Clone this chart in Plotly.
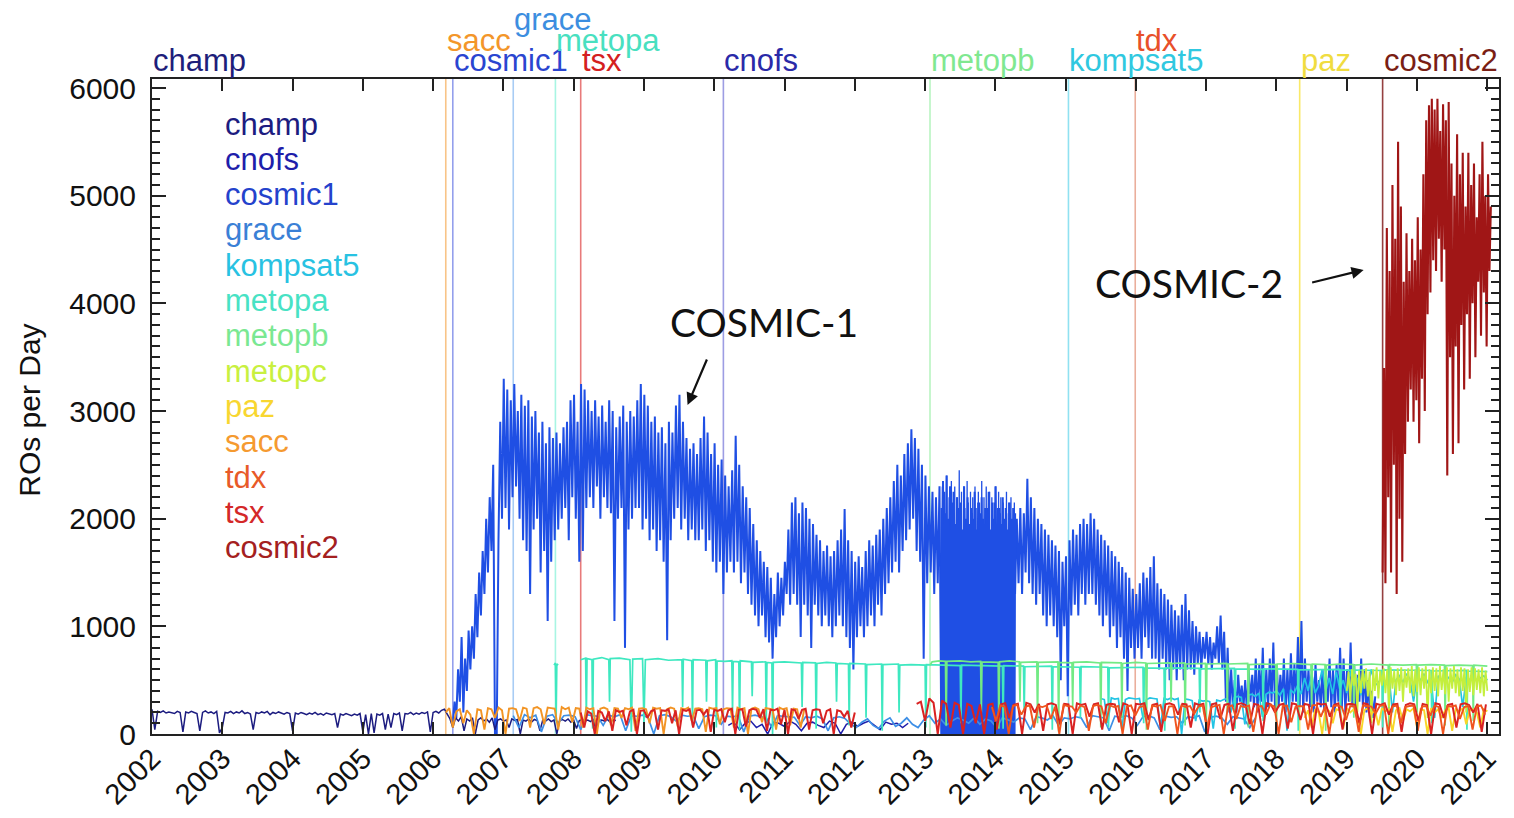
import numpy as np
import plotly.graph_objects as go

# ---------------- axes / labels ----------------
YEAR_TICKS = list(range(2002, 2022))
Y_TICKS = [0, 1000, 2000, 3000, 4000, 5000, 6000]

legend_names = ["champ", "cnofs", "cosmic1", "grace", "kompsat5", "metopa", "metopb",
                "metopc", "paz", "sacc", "tdx", "tsx", "cosmic2"]
legend_colors = ["#1c1c80", "#1e1eaa", "#2442cc", "#3a80d6", "#28c2e2", "#48e2c4", "#7ae892",
                 "#c8f040", "#f8d630", "#f59a30", "#e85a28", "#d42828", "#a42020"]

top_labels = ["champ", "sacc", "cosmic1", "grace", "metopa", "tsx", "cnofs", "metopb",
              "kompsat5", "tdx", "paz", "cosmic2"]
top_label_years = [2002.0, 2006.18, 2006.28, 2007.14, 2007.74, 2008.10, 2010.13, 2013.07,
                   2015.04, 2015.99, 2018.33, 2019.51]
top_label_rows = [1, 2, 1, 3, 2, 1, 1, 1, 1, 2, 1, 1]
top_label_colors = ["#1e1e7a", "#f3962a", "#2a45d0", "#3c8ee0", "#48e0c0", "#d42020", "#2a2aa8",
                    "#80e890", "#30c8e0", "#e8502a", "#f0dc40", "#7a1e14"]
launch_line_colors = ["rgba(0,0,0,0)", "rgba(242,148,36,0.55)", "rgba(60,80,220,0.55)",
                      "rgba(61,143,230,0.45)", "rgba(62,232,192,0.45)", "rgba(217,34,34,0.6)",
                      "rgba(60,60,200,0.5)", "rgba(114,234,132,0.5)", "rgba(34,196,228,0.5)",
                      "rgba(220,120,90,0.6)", "rgba(248,224,40,0.7)", "rgba(130,30,30,0.85)"]

# ---------------- data (ROs per day) ----------------
# COSMIC-1: highest and lowest daily count within each 0.05-year bin
cosmic1_start, cosmic1_step = 2006.28, 0.05
cosmic1_high = [
    300, 600, 900, 700, 960, 1000, 1300, 1500, 1700, 2000,
    2200, 2500, 0, 2900, 3300, 3200, 3100, 3250, 3000, 3150,
    3050, 3100, 2950, 3000, 2800, 2900, 2700, 2850, 2750, 2800,
    2700, 2850, 2900, 3100, 3150, 2900, 3250, 3200, 3100, 3000,
    3100, 2950, 3050, 2900, 3100, 3000, 2850, 2950, 3050, 2900,
    3000, 2950, 3100, 3250, 3150, 3050, 2900, 2950, 2800, 2850,
    2700, 2900, 2800, 3050, 3150, 2900, 2750, 2650, 2700, 2600,
    2750, 2950, 2800, 2600, 2700, 2500, 2550, 2400, 2300, 2450,
    2770, 2500, 2300, 2200, 2100, 1950, 1800, 1700, 1600, 1550,
    1450, 1300, 1500, 1450, 1600, 1900, 2150, 2200, 2050, 2150,
    2100, 2000, 1950, 1850, 1800, 1700, 1750, 1650, 1700, 1800,
    1900, 2090, 1800, 1700, 1600, 1650, 1550, 1700, 1800, 1750,
    1850, 1900, 2000, 2100, 2200, 2350, 2500, 2400, 2600, 2700,
    2830, 2750, 2650, 2500, 2400, 2300, 2250, 2200, 2300, 2350,
    2400, 2300, 2250, 2200, 2150, 2300, 2200, 2100, 2250, 2150,
    2200, 2100, 2250, 2150, 2300, 2100, 2200, 2050, 2150, 2100,
    2000, 2100, 2050, 2370, 2200, 2100, 2000, 1950, 1900, 1850,
    1800, 1750, 1700, 1600, 1650, 1800, 1900, 1850, 1950, 2000,
    1950, 2050, 2000, 1900, 1850, 1800, 1750, 1700, 1650, 1600,
    1550, 1500, 1450, 1350, 1300, 1400, 1500, 1450, 1550, 1650,
    1400, 1350, 1300, 1250, 1200, 1150, 1100, 1200, 1300, 1150,
    1050, 1000, 950, 900, 950, 900, 850, 1000, 1100, 950,
    800, 600, 500, 550, 450, 500, 600, 550, 700, 650,
    800, 600, 700, 850, 650, 550, 700, 600, 750, 650,
    900, 1050, 700, 600, 550, 650, 500, 600, 550, 700,
    600, 650, 800, 700, 600, 850, 650, 550, 700, 600,
    500, 400, 350]
cosmic1_low = [
    100, 150, 300, 200, 400, 600, 700, 900, 1100, 1300,
    1500, 1700, 0, 1800, 2000, 2100, 1900, 2200, 2300, 2000,
    1800, 1700, 1300, 1900, 2000, 1500, 1700, 1050, 1600, 1800,
    1900, 2000, 2100, 1800, 2200, 2000, 1600, 1700, 2100, 2200,
    2100, 2300, 2000, 2200, 2100, 2050, 1050, 2000, 2100, 800,
    1900, 2000, 2100, 2100, 1900, 2000, 1800, 1900, 1700, 1800,
    1600, 870, 1800, 2000, 2100, 1900, 2000, 1800, 1900, 1800,
    1800, 1900, 1700, 1800, 1600, 1500, 1600, 1300, 1500, 1600,
    1500, 1600, 1400, 1500, 1300, 1200, 1100, 1000, 1100, 900,
    850, 700, 900, 1000, 1100, 1300, 1200, 1300, 1200, 900,
    1200, 1100, 800, 1200, 1100, 1000, 1100, 1000, 900, 1000,
    1100, 1000, 900, 800, 600, 900, 1000, 900, 1000, 1100,
    1000, 1200, 1100, 1300, 1400, 1500, 1600, 1500, 1700, 1800,
    1900, 2000, 1700, 1600, 700, 1400, 1500, 1300, 1400, 0,
    0, 0, 0, 0, 0, 0, 0, 0, 0, 0,
    0, 0, 0, 0, 0, 0, 0, 0, 0, 0,
    1300, 1400, 1300, 1500, 1400, 1300, 1200, 1300, 1100, 1000,
    1100, 1000, 900, 500, 1000, 350, 1100, 1200, 1100, 1300,
    1200, 1300, 1300, 1200, 1100, 1000, 1100, 900, 1000, 800,
    900, 700, 400, 800, 700, 800, 700, 900, 800, 700,
    700, 600, 700, 600, 500, 600, 500, 600, 500, 600,
    600, 550, 650, 600, 700, 650, 600, 700, 650, 600,
    300, 200, 250, 200, 300, 250, 200, 300, 250, 200,
    300, 200, 250, 300, 200, 250, 300, 200, 250, 300,
    300, 250, 200, 300, 250, 200, 300, 250, 200, 300,
    250, 200, 300, 250, 200, 300, 250, 200, 300, 250,
    200, 150, 150]

# COSMIC-1 2013-2014 period with every-other-day data gaps (dense)
cosmic1_gap_start, cosmic1_gap_step = 2013.23, 0.008
cosmic1_gap_values = [
    2100, 0, 2300, 0, 1950, 0, 2250, 0, 2050, 0, 2400, 0, 2000, 0, 2200, 0, 1900, 0, 2350, 0,
    2150, 0, 2050, 0, 2300, 0, 1950, 0, 2200, 0, 2100, 0, 2450, 0, 2000, 0, 2250, 0, 1900, 0,
    2300, 0, 2100, 0, 2000, 0, 2350, 0, 2150, 0, 1950, 0, 2250, 0, 2050, 0, 2200, 0, 2000, 0,
    2300, 0, 2100, 0, 1900, 0, 2250, 0, 2150, 0, 2050, 0, 2350, 0, 2000, 0, 2200, 0, 1950, 0,
    2300, 0, 2100, 0, 2050, 0, 2250, 0, 1900, 0, 2200, 0, 2000, 0, 2150, 0, 2300, 0, 1950, 0,
    2100, 0, 2250, 0, 2050, 0, 2200, 0, 1950, 0, 2150, 0, 2000, 0, 2100, 0, 2250, 0, 1900, 0,
    2150, 0, 2050, 0, 2200, 0, 2000, 0, 2100, 0, 2150, 0, 2050]

cosmic2_start, cosmic2_step = 2019.51, 0.02
cosmic2_values = [
    1500, 3400, 1400, 4700, 2200, 4300, 1500, 5100, 2500, 4600,
    1300, 5500, 2000, 4900, 1600, 4200, 2600, 4650, 2900, 4300,
    3200, 4600, 2900, 4400, 3100, 4800, 2700, 4500, 3300, 5200,
    3000, 5700, 3900, 5840, 4100, 5900, 4400, 5800, 4300, 5900,
    4600, 5600, 4200, 5850, 4500, 5700, 2400, 5870, 3500, 5300,
    2600, 5000, 3600, 5570, 2700, 5200, 3800, 5400, 3200, 4900,
    3900, 5400, 3300, 5100, 4000, 5300, 3500, 4800, 4200, 5200,
    3700, 5500, 4100, 5000, 3600, 5200, 4300, 4900]

champ_start, champ_step = 2002.00, 0.04
champ_values = [
    230, 40, 210, 200, 215, 195, 205, 200, 190, 210, 200, 20, 205, 195, 210, 200, 190, 30, 200, 215,
    195, 205, 190, 210, 10, 60, 200, 195, 210, 190, 205, 195, 215, 190, 200, 185, 40, 200, 190, 205,
    195, 210, 180, 200, 190, 205, 195, 185, 200, 190, 30, 195, 185, 200, 190, 180, 195, 185, 200, 180,
    190, 175, 195, 185, 180, 190, 60, 185, 175, 190, 180, 170, 185, 175, 190, 20, 180, 0, 190, 10,
    185, 175, 190, 40, 185, 60, 190, 180, 195, 30, 190, 185, 200, 180, 195, 185, 200, 190, 205, 20,
    200, 210, 195, 220, 230, 180, 140, 60, 150, 120, 160, 30, 140, 120, 150, 0, 130, 150, 120, 140,
    110, 150, 40, 130, 140, 120, 130, 60, 140, 125, 135, 0, 130, 120, 140, 110, 135, 125, 30, 130,
    120, 140, 115, 130, 0, 125, 135, 120, 140, 110, 130, 50, 125, 135, 120, 130, 115, 140, 20, 125,
    130, 120, 135, 110, 130, 125]

cnofs_start, cnofs_step = 2010.20, 0.08
cnofs_values = [80, 110, 40, 100, 120, 60, 90, 0, 110, 100, 70, 120, 90, 30, 100, 110, 80, 60,
                120, 100, 0, 90, 110, 70, 100, 120, 80, 40, 110, 90, 100, 60, 100]

grace_start, grace_step = 2007.14, 0.08
grace_values = [
    170, 60, 180, 150, 175, 20, 165, 180, 100, 170, 175, 160, 40, 180, 170, 165, 80, 175, 160, 180,
    30, 170, 165, 175, 150, 0, 170, 180, 160, 120, 175, 165, 170, 50, 160, 175, 170, 90, 165, 160,
    170, 20, 165, 175, 160, 150, 60, 170, 165, 160, 155, 80, 160, 150, 165, 140, 30, 150, 160, 145,
    90, 60, 110, 140, 80, 50, 120, 150, 70, 100, 150, 90, 60, 130, 170, 100, 140, 80, 120, 150,
    130, 100, 150, 90, 140, 120, 60, 150, 130, 110, 150, 140, 40, 160, 150, 130, 170, 80, 150, 140,
    160, 150, 60, 170, 160, 150, 30, 165, 155, 170, 150, 80, 160, 170, 150, 40, 165, 155, 160, 100,
    160, 150, 170, 20, 155, 165, 150, 90, 160, 150, 140, 60, 150]

kompsat5_start, kompsat5_step = 2015.50, 0.05
kompsat5_values = [
    330, 320, 100, 335, 325, 330, 40, 320, 335, 330, 325, 330, 150, 320, 335, 330, 325, 60, 330, 320,
    335, 320, 330, 0, 325, 320, 310, 120, 315, 305, 310, 300, 50, 315, 305, 320, 330, 200, 340, 350,
    340, 90, 360, 370, 350, 380, 160, 370, 390, 380, 400, 360, 420, 30, 410, 380, 450, 370, 520, 400,
    560, 380, 450, 600, 400, 520, 370, 580, 420, 500, 380, 590, 430, 520, 360, 560, 440, 600, 450, 480,
    520, 470, 550, 200, 500, 540, 480, 560, 510, 300, 530, 500, 560, 480, 520, 150, 540, 500, 560, 520,
    480, 550, 510, 250, 530, 500, 560, 490, 520, 540, 500]

metopa_years = [
    2007.72, 2007.74, 2007.75, 2007.76, 2007.78, None,
    2008.10, 2008.15, 2008.17, 2008.18, 2008.19, 2008.26, 2008.27, 2008.28, 2008.40, 2008.50,
    2008.51, 2008.52, 2008.65, 2008.80, 2008.82, 2008.84, 2008.98, 2009.00, 2009.02, 2009.20,
    2009.35, 2009.54, 2009.55, 2009.56, 2009.68, 2009.69, 2009.70, 2009.88, 2009.89, 2009.90,
    2010.02, 2010.03, 2010.04, 2010.15, 2010.25, 2010.26, 2010.27, 2010.35, 2010.36, 2010.37,
    2010.53, 2010.54, 2010.55, 2010.73, 2010.74, 2010.75, 2010.82, 2010.83, 2010.84, 2011.00,
    2011.24, 2011.25, 2011.26, 2011.44, 2011.45, 2011.46, 2011.60, 2011.73, 2011.74, 2011.75,
    2011.91, 2011.92, 2011.93, 2012.15, 2012.16, 2012.17, 2012.38, 2012.39, 2012.40, 2012.62,
    2012.63, 2012.64, 2012.80, 2013.00, 2013.01, 2013.02, 2013.30, 2013.50, 2013.51, 2013.52,
    2013.80, 2014.10, 2014.11, 2014.12, 2014.40, 2014.41, 2014.42, 2014.80, 2014.81, 2014.82,
    2015.20, 2015.21, 2015.22, 2015.60, 2015.61, 2015.62, 2016.10, 2016.11, 2016.12, 2016.40,
    2016.41, 2016.42, 2016.90, 2016.91, 2016.92, 2017.40, 2017.41, 2017.42, 2017.80, 2017.81,
    2017.82, 2018.30, 2018.31, 2018.32, 2018.90, 2018.91, 2018.92, 2019.50, 2019.51, 2019.52,
    2020.20, 2020.21, 2020.22, 2020.70, 2020.71, 2020.72, 2021.00]
metopa_values = [
    640, 660, 120, 650, 640, None,
    690, 700, 705, 150, 700, 690, 50, 695, 710, 690,
    300, 700, 705, 690, 20, 695, 700, 100, 690, 700,
    685, 690, 250, 695, 680, 80, 690, 685, 300, 680,
    690, 60, 680, 675, 680, 200, 675, 670, 40, 680,
    670, 350, 665, 670, 100, 665, 660, 0, 665, 670,
    660, 250, 665, 660, 50, 655, 665, 660, 300, 655,
    650, 80, 655, 650, 150, 645, 650, 30, 645, 650,
    200, 640, 645, 640, 60, 645, 640, 635, 100, 640,
    635, 630, 50, 635, 630, 200, 625, 630, 40, 625,
    620, 150, 625, 620, 60, 615, 620, 100, 615, 610,
    30, 615, 610, 200, 605, 610, 50, 605, 600, 120,
    605, 600, 30, 595, 600, 150, 595, 590, 60, 595,
    590, 100, 585, 590, 40, 585, 580]

metopb_years = [
    2013.07, 2013.10, 2013.20, 2013.29, 2013.30, 2013.31, 2013.50, 2013.65, 2013.79, 2013.80,
    2013.81, 2014.04, 2014.05, 2014.06, 2014.20, 2014.34, 2014.35, 2014.36, 2014.59, 2014.60,
    2014.61, 2014.89, 2014.90, 2014.91, 2015.09, 2015.10, 2015.11, 2015.30, 2015.49, 2015.50,
    2015.51, 2015.79, 2015.80, 2015.81, 2016.00, 2016.14, 2016.15, 2016.16, 2016.49, 2016.50,
    2016.51, 2016.69, 2016.70, 2016.71, 2016.99, 2017.00, 2017.01, 2017.29, 2017.30, 2017.31,
    2017.59, 2017.60, 2017.61, 2017.80, 2017.99, 2018.00, 2018.01, 2018.25, 2018.49, 2018.50,
    2018.51, 2018.69, 2018.70, 2018.71, 2018.90, 2019.09, 2019.10, 2019.11, 2019.35, 2019.59,
    2019.60, 2019.61, 2019.80, 2019.99, 2020.00, 2020.01, 2020.20, 2020.39, 2020.40, 2020.41,
    2020.60, 2020.79, 2020.80, 2020.81, 2021.00]
metopb_values = [
    640, 670, 680, 675, 80, 675, 680, 670, 675, 200,
    670, 665, 50, 670, 680, 670, 300, 665, 670, 100,
    665, 670, 20, 665, 660, 250, 665, 670, 660, 60,
    665, 660, 150, 655, 665, 660, 40, 655, 660, 300,
    655, 660, 80, 650, 655, 20, 650, 655, 200, 650,
    655, 60, 645, 650, 645, 100, 650, 655, 645, 250,
    650, 645, 30, 640, 650, 645, 150, 640, 650, 640,
    50, 645, 640, 645, 200, 640, 645, 640, 80, 635,
    640, 635, 120, 640, 630]

metopc_start, metopc_step = 2019.00, 0.025
metopc_values = [
    400, 580, 300, 600, 450, 560, 200, 590, 380, 600, 420, 610, 350, 580, 100, 600, 400, 620, 330, 590,
    450, 610, 380, 600, 250, 620, 420, 590, 360, 610, 400, 620, 300, 600, 430, 610, 380, 630, 350, 600,
    390, 620, 360, 610, 420, 630, 150, 600, 380, 620, 400, 610, 350, 630, 410, 600, 370, 620, 300, 610,
    420, 630, 380, 600, 350, 620, 400, 610, 200, 600, 390, 620, 360, 610, 410, 600, 380, 620, 350, 590,
    400]

paz_start, paz_step = 2018.40, 0.05
paz_values = [
    150, 220, 60, 230, 200, 0, 240, 210, 100, 230, 220, 50, 240, 200, 230, 150, 0, 220, 240, 180,
    230, 80, 240, 210, 230, 20, 220, 240, 120, 230, 210, 240, 60, 230, 220, 0, 240, 200, 230, 150,
    220, 240, 30, 230, 210, 240, 90, 220, 230, 200, 60, 230, 210]

sacc_start, sacc_step = 2006.18, 0.05
sacc_values = [
    200, 240, 60, 210, 230, 100, 220, 180, 0, 230, 220, 40, 240, 230, 150, 245, 220, 0, 235, 240,
    230, 120, 245, 235, 60, 240, 250, 230, 90, 245, 240, 235, 40, 250, 230, 245, 110, 240, 235, 60,
    245, 230, 240, 0, 235, 245, 230, 80, 240, 235, 150, 240, 230, 245, 30, 235, 240, 230, 100, 245,
    235, 240, 0, 230, 245, 235, 70, 240, 230, 245, 120, 235, 240, 230, 20, 245, 235, 240, 90, 230,
    240, 235, 60, 245, 230, 240, 0, 235, 245, 230, 110, 240, 235, 230, 40, 245, 230, 240, 80, 235,
    230, 60, 225]

tsx_a_start, tsx_b_start, tsx_step_a, tsx_step_b = 2008.10, 2012.88, 0.05, 0.06
tsx_a_values = [
    200, 60, 210, 190, 0, 215, 200, 120, 210, 30, 220, 205, 215, 80, 210, 225, 0, 215, 220, 150,
    210, 225, 40, 220, 215, 230, 100, 220, 0, 225, 215, 230, 60, 220, 225, 180, 230, 20, 225, 215,
    230, 110, 220, 235, 0, 225, 230, 70, 220, 235, 225, 150, 230, 30, 225, 220, 235, 90, 225, 0,
    230, 220, 140, 225, 235, 40, 220, 230, 225, 100, 215, 230, 0, 220, 210, 160, 215, 60, 200]
tsx_b_values = [
    280, 300, 120, 330, 290, 0, 310, 280, 60, 290, 270, 0, 280, 260, 100, 275, 0, 270, 280, 40,
    275, 285, 150, 270, 280, 0, 290, 275, 200, 280, 30, 275, 285, 270, 90, 280, 275, 0, 285, 270,
    280, 160, 275, 285, 40, 270, 280, 275, 110, 285, 270, 0, 280, 275, 285, 130, 270, 280, 20, 275,
    285, 270, 180, 280, 275, 60, 285, 270, 280, 0, 275, 285, 140, 270, 280, 30, 275, 285, 270, 90,
    280, 270, 0, 285, 275, 200, 270, 280, 50, 285, 275, 130, 280, 270, 0, 285, 275, 280, 160, 270,
    285, 40, 275, 280, 270, 100, 285, 275, 0, 280, 270, 285, 180, 275, 280, 20, 270, 285, 275, 120,
    280, 270, 0, 285, 275, 150, 270, 280, 60, 275, 285, 270, 200, 280, 20, 275]

tdx_start, tdx_step = 2013.95, 0.06
tdx_values = [
    250, 120, 265, 255, 0, 260, 270, 180, 255, 265, 60, 260, 250, 265, 140, 255, 0, 270, 260, 255,
    200, 265, 250, 30, 260, 270, 255, 100, 265, 250, 260, 0, 255, 265, 170, 250, 260, 40, 265, 255,
    270, 120, 255, 260, 0, 265, 250, 260, 190, 255, 265, 50, 250, 260, 270, 0, 255, 265, 140, 260,
    250, 265, 20, 255, 260, 180, 270, 255, 0, 260, 265, 110, 250, 260, 255, 40, 265, 270, 160, 255,
    0, 260, 265, 250, 130, 260, 255, 20, 265, 260, 255, 190, 260, 270, 0, 255, 265, 100, 250, 260,
    265, 30, 255, 260, 170, 265, 250, 0, 260, 255, 265, 140, 250, 260, 40, 255, 265, 180]


def years_from(start, step, values):
    return list(start + step * np.arange(len(values)))


series_colors = dict(zip(legend_names, legend_colors))

fig = go.Figure()


def add_line(x, y, color, width=1.5, opacity=1.0):
    fig.add_trace(go.Scatter(x=x, y=y, mode="lines", line=dict(color=color, width=width),
                             opacity=opacity, hoverinfo="skip", connectgaps=False))


# COSMIC-1: each bin's low then high, alternating along time
c1_t = years_from(cosmic1_start, cosmic1_step, cosmic1_low)
c1_x, c1_y = [], []
for t, lo, hi in zip(c1_t, cosmic1_low, cosmic1_high):
    c1_x += [t, t + cosmic1_step / 2]
    c1_y += [lo, hi]
add_line(c1_x, c1_y, "#1f4fe4", 2.0)
add_line(years_from(cosmic1_gap_start, cosmic1_gap_step, cosmic1_gap_values), cosmic1_gap_values,
         "#1f4fe4", 1.3)
add_line(years_from(champ_start, champ_step, champ_values), champ_values, series_colors["champ"])
add_line(years_from(cnofs_start, cnofs_step, cnofs_values), cnofs_values, series_colors["cnofs"])
add_line(years_from(grace_start, grace_step, grace_values), grace_values, "#3d8fe6", 1.7)
add_line(years_from(kompsat5_start, kompsat5_step, kompsat5_values), kompsat5_values, "#22c4e4", 1.7)
add_line(metopa_years, metopa_values, "#3ee8c0", 1.7)
add_line(metopb_years, metopb_values, "#72ea84", 1.7)
add_line(years_from(metopc_start, metopc_step, metopc_values), metopc_values, "#c4ef3c", 1.8)
add_line(years_from(sacc_start, sacc_step, sacc_values), sacc_values, "#f29424", 1.9)
add_line(years_from(paz_start, paz_step, paz_values), paz_values, "#f8d628", 1.9)
tsx_x = years_from(tsx_a_start, tsx_step_a, tsx_a_values) + [None] + \
    years_from(tsx_b_start, tsx_step_b, tsx_b_values)
tsx_y = tsx_a_values + [None] + tsx_b_values
add_line(tsx_x, tsx_y, "#d92222", 2.0)
add_line(years_from(tdx_start, tdx_step, tdx_values), tdx_values, "#f0541e", 1.9)
add_line(years_from(cosmic2_start, cosmic2_step, cosmic2_values), cosmic2_values, "#a01616", 2.1)

# launch lines
for yr, col in zip(top_label_years[1:], launch_line_colors[1:]):
    fig.add_vline(x=yr, line=dict(color=col, width=1.6), layer="below")

# top labels
ROW_Y = {1: 1.029, 2: 1.0595, 3: 1.0916}
annotations = []
for name, yr, row, col in zip(top_labels, top_label_years, top_label_rows, top_label_colors):
    annotations.append(dict(x=yr, y=ROW_Y[row], xref="x", yref="paper", text=name, showarrow=False,
                            xanchor="left", yanchor="middle", borderpad=0,
                            font=dict(size=31, color=col)))

# in-plot legend text
for k, (name, col) in enumerate(zip(legend_names, legend_colors)):
    ypx = 124 + 35.33 * k
    annotations.append(dict(x=(224 - 152) / 1347, y=(734 - ypx) / 655, xref="paper", yref="paper",
                            text=name, showarrow=False, xanchor="left", yanchor="middle",
                            borderpad=0, font=dict(size=31, color=col)))

# y title
annotations.append(dict(x=(30 - 152) / 1347, y=0.495, xref="paper", yref="paper", text="ROs per Day",
                        textangle=-90, showarrow=False, xanchor="center", yanchor="middle",
                        font=dict(size=30, color="#111")))

# COSMIC callouts
annotations.append(dict(x=2010.71, y=3830, xref="x", yref="y", text="COSMIC-1", showarrow=False,
                        xanchor="center", yanchor="middle",
                        font=dict(family="Lato, Liberation Sans, sans-serif", size=39, color="#111")))
annotations.append(dict(x=2016.755, y=4190, xref="x", yref="y", text="COSMIC-2", showarrow=False,
                        xanchor="center", yanchor="middle",
                        font=dict(family="Lato, Liberation Sans, sans-serif", size=39, color="#111")))
annotations.append(dict(x=2009.62, y=3056, xref="x", yref="y", text="", showarrow=True,
                        ax=20, ay=-47, arrowhead=2, arrowsize=1.1, arrowwidth=2.2, arrowcolor="#111"))
annotations.append(dict(x=2019.24, y=4311, xref="x", yref="y", text="", showarrow=True,
                        ax=-53, ay=13, arrowhead=2, arrowsize=1.1, arrowwidth=2.2, arrowcolor="#111"))

fig.update_layout(
    width=1514, height=818,
    margin=dict(l=152, r=15, t=79, b=84, autoexpand=False),
    plot_bgcolor="white", paper_bgcolor="white", showlegend=False,
    font=dict(family="Liberation Sans, Arial, sans-serif", size=30, color="#111"),
    annotations=annotations,
)
fig.update_xaxes(range=[2002, 2021.166], tickmode="array", tickvals=YEAR_TICKS,
                 ticktext=[str(y) for y in YEAR_TICKS], tickangle=-45,
                 ticks="inside", ticklen=12, tickwidth=2, tickcolor="#222",
                 showline=True, linecolor="#222", linewidth=2, mirror="allticks",
                 showgrid=False, zeroline=False, tickfont=dict(size=29), ticklabelstandoff=-6)
fig.update_yaxes(range=[0, 6084], tickmode="array", tickvals=Y_TICKS,
                 ticks="inside", ticklen=14, tickwidth=2, tickcolor="#222",
                 minor=dict(tickmode="linear", tick0=0, dtick=100, ticks="inside", ticklen=8,
                            tickwidth=1.5, tickcolor="#222", showgrid=False),
                 showline=True, linecolor="#222", linewidth=2, mirror="allticks",
                 showgrid=False, zeroline=False, tickfont=dict(size=30), ticklabelstandoff=8)

fig.write_html("out.html")
